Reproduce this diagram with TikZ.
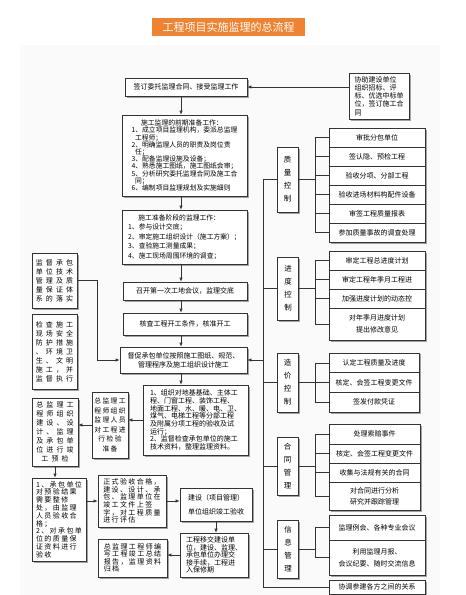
\documentclass[tikz,border=0pt]{standalone}
\usepackage{fontspec}
\setmainfont{Noto Sans CJK SC}
\newfontfamily\gridfont[LetterSpace=45]{Noto Sans CJK SC}
\newfontfamily\tightgridfont[LetterSpace=20]{Noto Sans CJK SC}
\usetikzlibrary{positioning,shadows,arrows.meta}

\begin{document}
\begin{tikzpicture}[x=1pt, y=-1pt, node distance=0pt]
  \definecolor{titleorange}{HTML}{EE8431}
  \definecolor{boxline}{HTML}{333333}
  \definecolor{shadowgray}{HTML}{8C8C8C}
  \definecolor{panel}{HTML}{FAFAFA}
  \newcommand{\bodysize}[0]{\fontsize{7}{8}\selectfont}
  \newcommand{\gridsize}[0]{\fontsize{7}{9}\selectfont}
  \tikzstyle{block}     = [draw=boxline, line width=0.6pt, fill=white, align=center, inner sep=1.5pt, font=\bodysize,
                           drop shadow={shadow xshift=1.5pt, shadow yshift=-1.5pt, fill=shadowgray, opacity=0.8}]
  \tikzstyle{category}  = [block, minimum width=21pt, font=\fontsize{7.5}{13}\selectfont]
  \tikzstyle{task}      = [block, outer sep=0pt, minimum width=96pt, minimum height=19pt]
  \tikzstyle{connector} = [draw=boxline, line width=0.6pt, -{Latex[length=4pt,width=3.2pt]}]
  \tikzstyle{wire}      = [draw=boxline, line width=0.6pt]
  \fill[panel] (20,45) rectangle (440,595);
  \useasboundingbox (0,0) rectangle (466,595);
  \node [fill=titleorange, text=white, minimum width=153pt, minimum height=18pt, font=\fontsize{11}{12}\selectfont] (title) at (228.5,27) {工程项目实施监理的总流程};
  % main column
  \node [block, minimum width=122pt, minimum height=18pt] (sign) at (186,87) {签订委托监理合同、接受监理工作};
  \node [block, minimum width=60pt, minimum height=46pt, align=left, font=\fontsize{7}{8.3}\selectfont] (assist) at (379,96)
        {协助建设单位\\组织招标、评\\标、优选中标单\\位，签订施工合\\同};
  \node [block, minimum width=125pt, minimum height=81pt, align=left, font=\fontsize{6.8}{7.2}\selectfont] (prep) at (184.5,155.5)
        {\hspace*{1.4em}施工监理的前期准备工作：\\1、成立项目监理机构，委派总监理\\\hspace*{0.5em}工程师；\\2、明确监理人员的职责及岗位责\\\hspace*{0.5em}任；\\3、配备监理设施及设备；\\4、熟悉施工图纸，施工图纸会审；\\5、分析研究委托监理合同及施工合\\\hspace*{0.5em}同；\\6、编制项目监理规划及实施细则};
  \node [block, minimum width=125pt, minimum height=54pt, align=left, font=\fontsize{6.8}{9.4}\selectfont] (stage) at (184.5,237)
        {\hspace*{1.5em}施工准备阶段的监理工作：\\1、参与设计交底；\\2、审定施工组织设计（施工方案）；\\3、查验施工测量成果；\\4、施工现场周围环境的调查；};
  \node [block, minimum width=124pt, minimum height=18pt] (meeting) at (185,291) {召开第一次工地会议，监理交底};
  \node [block, minimum width=124pt, minimum height=22pt] (startup) at (185,324) {核查工程开工条件，核准开工};
  \node [block, minimum width=127pt, minimum height=26pt, font=\fontsize{7}{9}\selectfont] (supervise) at (183.5,360)
        {督促承包单位按照施工图纸、规范、\\管理程序及施工组织设计施工};
  \node [block, minimum width=105pt, minimum height=70pt, align=left, font=\fontsize{7}{7.7}\selectfont] (check) at (195.5,420)
        {1、组织对地基基础、主体工\\程、门窗工程、装饰工程、\\地面工程、水、暖、电、卫、\\煤气、电梯工程等分部工程\\及附属分项工程的验收及试\\运行；\\2、监督检查承包单位的施工\\技术资料，整理监理资料。};
  % left column
  \node [block, minimum width=45pt, minimum height=55pt, font=\gridfont\gridsize] (system) at (54.5,280.5)
        {监督承包\\单位技术\\管理及质\\量保证体\\系的落实};
  \node [block, minimum width=45pt, minimum height=75pt, font=\gridfont\gridsize] (safety) at (54.5,351.5)
        {检查施工\\现场安全\\防护措施\\、环境卫\\生、文明\\施工，并\\监督执行};
  \node [block, minimum width=36pt, minimum height=66pt, inner sep=1pt, font=\tightgridfont\fontsize{6.8}{9.5}\selectfont] (precheck) at (110,425)
        {总监理工\\程师组织\\监理人员\\对工程进\\行检验\\准备};
  \node [block, minimum width=46pt, minimum height=68pt, font=\gridfont\gridsize] (preaccept) at (55,432)
        {总监理工\\程师组织\\建设、设\\计、监理\\及承包单\\位进行竣\\工预检};
  \node [block, minimum width=54pt, minimum height=83pt, align=left, font=\tightgridfont\fontsize{7}{7.8}\selectfont] (rectify) at (59,519.5)
        {1、承包单位\\对预验结果\\需要整修\\处，由监理\\人员验收合\\格；\\2、对承包单\\位的质量保\\证资料进行\\验收};
  \node [block, minimum width=68pt, minimum height=52pt, align=left, font=\tightgridfont\fontsize{7}{7.6}\selectfont] (formal) at (132,501)
        {正式验收合格，\\建设、设计、承\\包、监理单位在\\竣工文件上签\\字，对工程质量\\进行评估};
  \node [block, minimum width=72pt, minimum height=33pt, font=\fontsize{7}{14}\selectfont] (owner) at (216,504.5)
        {建设（项目管理）\\单位组织竣工验收};
  \node [block, minimum width=68pt, minimum height=44pt, align=left, font=\fontsize{7}{7.4}\selectfont] (handover) at (214,555)
        {工程移交建设单\\位，建设、监理、\\承包单位办理交\\接手续，工程进\\入保修期};
  \node [block, minimum width=69pt, minimum height=38pt, align=left, font=\tightgridfont\fontsize{7}{7.4}\selectfont] (archive) at (132.5,558)
        {总监理工程师编\\写工程竣工总结\\报告，监理资料\\归档};
  % control and management groups
  \node [category, minimum height=65pt] (quality)   at (287.5,179.5) {质\\量\\控\\制};
  \node [category, minimum height=63pt] (schedule)  at (288,288.5)   {进\\度\\控\\制};
  \node [category, minimum height=59pt] (cost)      at (287.5,382.5) {造\\价\\控\\制};
  \node [category, minimum height=58pt] (contracts) at (287.5,466)   {合\\同\\管\\理};
  \node [category, minimum height=58pt] (info)      at (288,549)     {信\\息\\管\\理};
  \node [task] (q1) at (377,137.5) {审批分包单位};
  \node [task, below=of q1] (q2) {签认隐、预检工程};
  \node [task, below=of q2] (q3) {验收分项、分部工程};
  \node [task, below=of q3] (q4) {验收进场材料构配件设备};
  \node [task, below=of q4] (q5) {审签工程质量报表};
  \node [task, below=of q5] (q6) {参加质量事故的调查处理};
  \node [task] (s1) at (377,260.5) {审定工程总进度计划};
  \node [task, below=of s1] (s2) {审定工程年季月工程进};
  \node [task, below=of s2] (s3) {加强进度计划的动态控};
  \node [task, below=of s3, minimum height=32pt, font=\fontsize{7}{12}\selectfont] (s4) {对年季月进度计划\\提出修改意见};
  \node [task, minimum width=90pt, minimum height=19.7pt] (c1) at (374,362.8) {认定工程质量及进度};
  \node [task, minimum width=90pt, minimum height=19.7pt, below=of c1] (c2) {核定、会签工程变更文件};
  \node [task, minimum width=90pt, minimum height=19.7pt, below=of c2] (c3) {签发付款凭证};
  \node [task, minimum width=91pt, minimum height=20pt] (k1) at (374.5,434) {处理索赔事件};
  \node [task, minimum width=91pt, below=of k1] (k2) {核定、会签工程变更文件};
  \node [task, minimum width=91pt, below=of k2] (k3) {收集与法规有关的合同};
  \node [task, minimum width=91pt, minimum height=28pt, below=of k3, font=\fontsize{7}{11}\selectfont] (k4) {对合同进行分析\\研究并跟踪管理};
  \node [task, minimum height=25pt] (i1) at (377,527.5) {监理例会、各种专业会议};
  \node [task, minimum height=35pt, below=of i1, font=\fontsize{7}{12}\selectfont] (i2) {利用监理月报、\\会议纪要、随时交流信息};
  \node [task, minimum height=14pt] (coord) at (377,587) {协调参建各方之间的关系};
  % connectors
  \coordinate (spine) at (181,0);
  \coordinate (trunk) at (263,0);
  \draw [connector] (sign.east -| assist.west) -- (sign.east);
  \foreach \a/\b in {sign/prep, prep/stage, stage/meeting, meeting/startup, startup/supervise, supervise/check}
    \draw [connector] (\a.south -| spine) -- (\b.north -| spine);
  \draw [connector] (system.east) -| ([xshift=-22pt]supervise.west) -- (supervise.west);
  \draw [connector] (check.west) -- (check.west -| precheck.east);
  \draw [connector] (precheck.west) -- (precheck.west -| preaccept.east);
  \draw [connector] (preaccept.south) -- (preaccept.south |- rectify.north);
  \draw [connector] (rectify.east |- formal.west) -- (formal.west);
  \draw [connector] (formal.east) -- (formal.east -| owner.west);
  \draw [connector] (owner.south) -- (owner.south |- handover.north);
  \draw [connector] (handover.west) -- (handover.west -| archive.east);
  \draw [wire] (quality.west) -| (trunk |- coord.west) -- (coord.west);
  \foreach \n in {schedule, cost, contracts, info}
    \draw [wire] (\n.west) -- (\n.west -| trunk);
  \draw [connector] (supervise.east -| trunk) -- (supervise.east);
  \foreach \n in {q1, q2, q3, q4, q5, q6}
    \draw [wire] (quality.east) -- ++(17,0) |- (\n.west);
  \foreach \n in {s1, s2, s3, s4}
    \draw [wire] (schedule.east) -- ++(16,0) |- (\n.west);
  \foreach \n in {c1, c2, c3}
    \draw [wire] (cost.east) -- ++(17,0) |- (\n.west);
  \foreach \n in {k1, k2, k3, k4}
    \draw [wire] (contracts.east) -- ++(17,0) |- (\n.west);
  \foreach \n in {i1, i2}
    \draw [wire] (info.east) -- ++(16,0) |- (\n.west);
\end{tikzpicture}
\end{document}
